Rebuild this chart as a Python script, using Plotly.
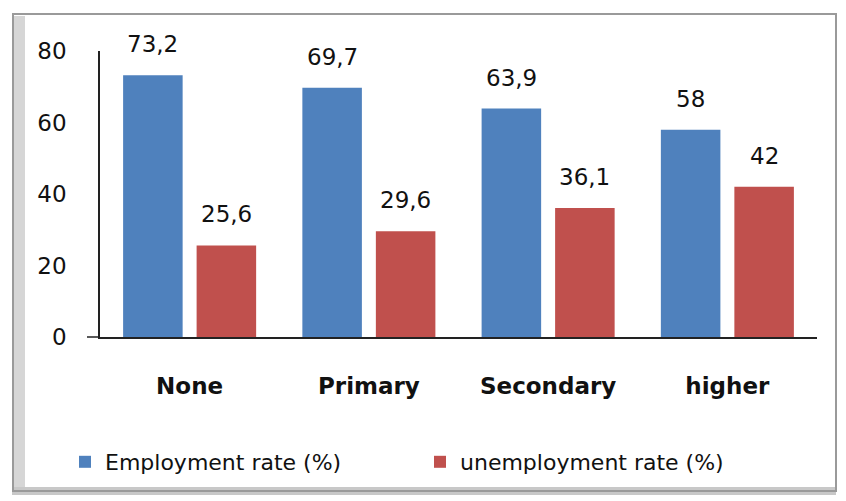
import plotly.graph_objects as go

categories = ["None", "Primary", "Secondary", "higher"]
employment = [73.2, 69.7, 63.9, 58]
unemployment = [25.6, 29.6, 36.1, 42]
employment_labels = ["73,2", "69,7", "63,9", "58"]
unemployment_labels = ["25,6", "29,6", "36,1", "42"]
series_names = ["Employment rate (%)", "unemployment rate (%)"]
y_ticks = [0, 20, 40, 60, 80]

BLUE = "#4F81BD"
RED = "#C0504D"
FONT = "DejaVu Sans"
TXT = "#111111"

W, H = 846, 501
OFF = 8  # page body offset
SX0, SX1, SY0, SY1 = 100, 817, 51, 337
L = SX0 - OFF
T = SY0 - OFF
R = W - (SX1 - OFF)
B = H - (SY1 - OFF)
PW, PH = SX1 - SX0, SY1 - SY0


def px_x(px):
    return (px - SX0) / PW


def px_y(py):
    return (SY1 - py) / PH


BARGAP = 0.18
GROUPGAP = 0.19
slot = (1 - BARGAP) / 2
offsets = [-slot / 2, slot / 2]

fig = go.Figure()
fig.add_trace(go.Bar(x=categories, y=employment, name=series_names[0],
                     marker=dict(color=BLUE, line=dict(width=0))))
fig.add_trace(go.Bar(x=categories, y=unemployment, name=series_names[1],
                     marker=dict(color=RED, line=dict(width=0))))

annotations = []
for vals, labs, off in [(employment, employment_labels, offsets[0]),
                        (unemployment, unemployment_labels, offsets[1])]:
    for i, (v, t) in enumerate(zip(vals, labs)):
        annotations.append(dict(x=i + off, y=v, xref="x", yref="y", text=t,
                                showarrow=False, yshift=31, yanchor="middle",
                                font=dict(family=FONT, size=23, color=TXT)))

shapes = [
    dict(type="rect", xref="paper", yref="paper", layer="below",
         x0=px_x(12), x1=px_x(25), y0=px_y(492), y1=px_y(16),
         fillcolor="#d6d6d6", line=dict(width=0)),
    dict(type="rect", xref="paper", yref="paper", layer="below",
         x0=px_x(12), x1=px_x(836), y0=px_y(495), y1=px_y(487),
         fillcolor="#c8c8c8", line=dict(width=0)),
    dict(type="rect", xref="paper", yref="paper", layer="below",
         x0=px_x(13), x1=px_x(836), y0=px_y(491), y1=px_y(14),
         line=dict(color="#9a9a9a", width=2)),
    dict(type="line", xref="paper", yref="paper",
         x0=px_x(87), x1=0, y0=0, y1=0,
         line=dict(color="#222222", width=1.5)),
]

fig.update_layout(
    width=W, height=H,
    margin=dict(l=L, r=R, t=T, b=B),
    paper_bgcolor="white", plot_bgcolor="white",
    barmode="group", bargap=BARGAP, bargroupgap=GROUPGAP,
    font=dict(family=FONT, color=TXT),
    showlegend=True,
    legend=dict(orientation="h", x=px_x(65), xanchor="left",
                y=px_y(462), yanchor="middle",
                font=dict(family=FONT, size=22, color=TXT),
                itemwidth=30, entrywidth=310),
    xaxis=dict(showline=True, linecolor="#222222", linewidth=1.5,
               ticks="", showgrid=False, ticklabelstandoff=28,
               tickfont=dict(family=FONT, size=23, color=TXT, weight="bold")),
    yaxis=dict(range=[0, 80], tickvals=y_ticks, showline=True,
               linecolor="#222222", linewidth=1.5, showgrid=False,
               zeroline=False, ticks="", ticklabelstandoff=27,
               tickfont=dict(family=FONT, size=23, color=TXT)),
    annotations=annotations,
    shapes=shapes,
)

fig.write_html("out.html")
